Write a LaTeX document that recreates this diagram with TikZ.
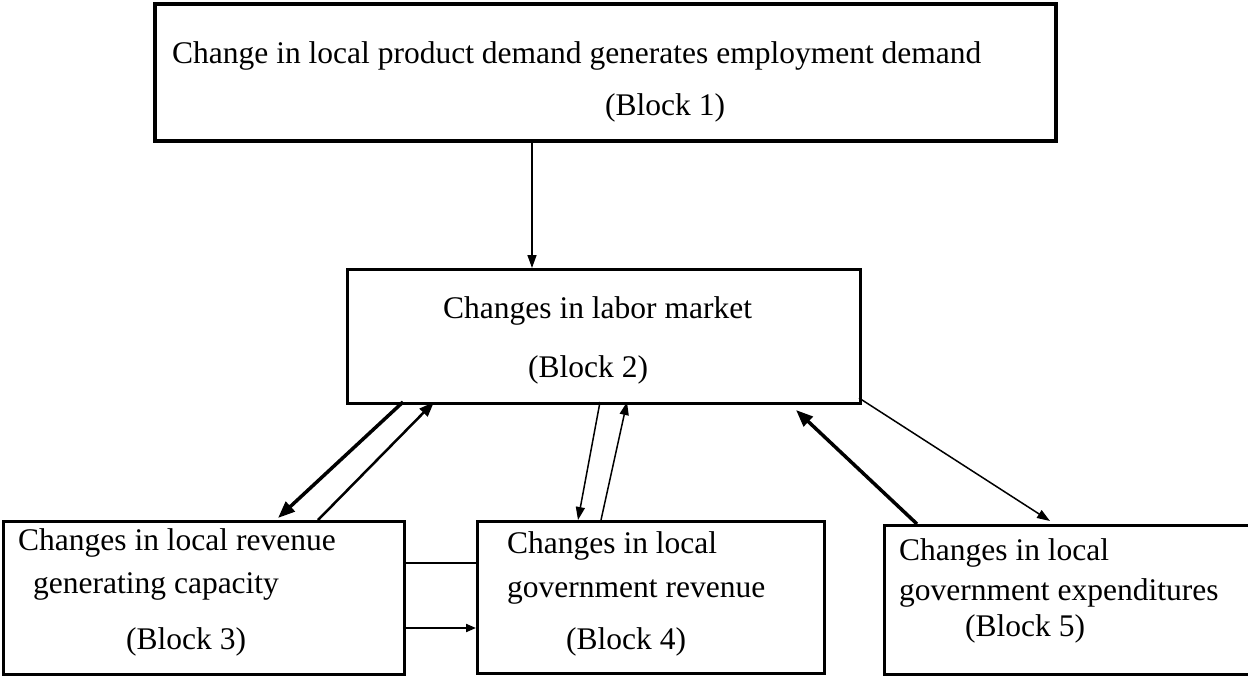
\documentclass[tikz,border=0pt]{standalone}
\usepackage{fontspec}
\setmainfont{Liberation Serif}
\usetikzlibrary{arrows.meta}
\begin{document}
\begin{tikzpicture}[x=1pt,y=-1pt,
  box/.style={draw,line width=3pt,rectangle,inner sep=0pt,anchor=north west},
  lbl/.style={anchor=base west,inner sep=0pt,font=\fontsize{31.5}{38}\selectfont},
  thin/.style={line width=1.5pt,-{Triangle[length=13pt,width=9pt]}},
  medium/.style={line width=2.5pt,-{Triangle[length=15pt,width=11pt]}},
  thick/.style={line width=3.5pt,-{Triangle[length=17pt,width=13pt]}},
  plain/.style={line width=2pt}]
\useasboundingbox (0,0) rectangle (1248,675);
\fill[white] (0,0) rectangle (1248,675);

% blocks
\node[box,line width=4pt,minimum width=901pt,minimum height=137pt] (b1) at (153,2) {};
\node[box,minimum width=513pt,minimum height=134pt] (b2) at (346,268) {};
\node[box,minimum width=401pt,minimum height=153pt] (b3) at (2,520) {};
\node[box,minimum width=347pt,minimum height=152pt] (b4) at (476,520) {};
\node[box,minimum width=370pt,minimum height=149pt] (b5) at (883,524) {};

% texts
\node[lbl] (t1a) at (172,63) {Change in local product demand generates employment demand};
\node[lbl] (t1b) at (605,115) {(Block 1)};
\node[lbl] (t2a) at (443,318) {Changes in labor market};
\node[lbl] (t2b) at (528,377) {(Block 2)};
\node[lbl] (t3a) at (18,550) {Changes in local revenue};
\node[lbl] (t3b) at (33,593) {generating capacity};
\node[lbl] (t3c) at (126,649) {(Block 3)};
\node[lbl] (t4a) at (507,553) {Changes in local};
\node[lbl] (t4b) at (507,597) {government revenue};
\node[lbl] (t4c) at (566,649) {(Block 4)};
\node[lbl] (t5a) at (899,560) {Changes in local};
\node[lbl] (t5b) at (899,600) {government expenditures};
\node[lbl] (t5c) at (965,636) {(Block 5)};

% connector end points on the block borders
\coordinate (p1s) at (532,140);
\coordinate (p1e) at (532,268);
\coordinate (p2s) at (403,402);
\coordinate (p2e) at (278,518);
\coordinate (p3s) at (318,520);
\coordinate (p3e) at (434,402);
\coordinate (p4s) at (600,402);
\coordinate (p4e) at (578,520);
\coordinate (p5s) at (601,520);
\coordinate (p5e) at (627,402);
\coordinate (p6s) at (917,524);
\coordinate (p6e) at (796,410);
\coordinate (p7s) at (859,398);
\coordinate (p7e) at (1050,521);
\coordinate (p8s) at (403,563);
\coordinate (p8e) at (476,563);
\coordinate (p9s) at (403,628);
\coordinate (p9e) at (476,628);

% connectors
\draw[thin] (p1s) -- (p1e);
\draw[thick] (p2s) -- (p2e);
\draw[medium] (p3s) -- (p3e);
\draw[thin] (p4s) -- (p4e);
\draw[thin] (p5s) -- (p5e);
\draw[thick] (p6s) -- (p6e);
\draw[thin] (p7s) -- (p7e);
\draw[plain] (p8s) -- (p8e);
\draw[plain,-{Triangle[length=10pt,width=8pt]}] (p9s) -- (p9e);
\end{tikzpicture}
\end{document}
